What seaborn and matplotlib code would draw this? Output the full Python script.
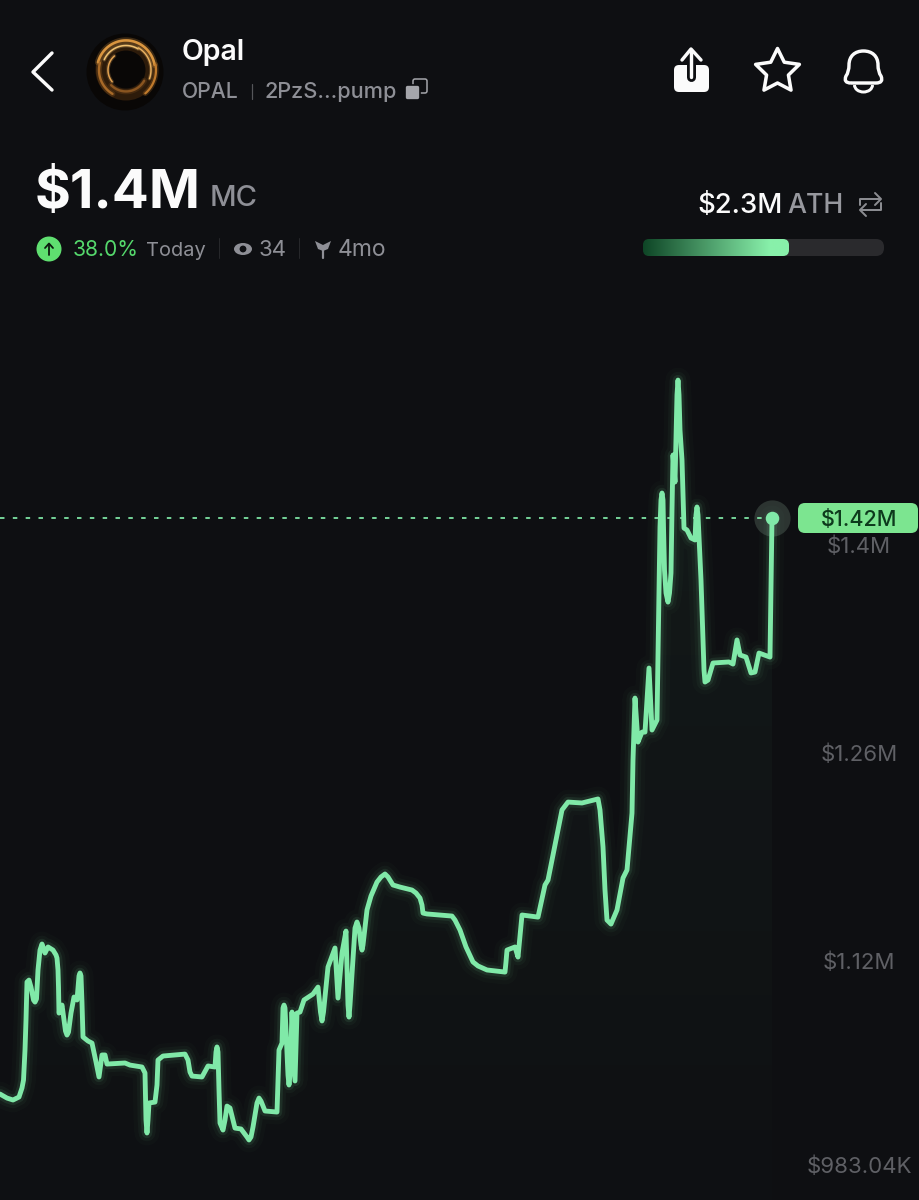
import numpy as np
import pandas as pd
import seaborn as sns
import matplotlib.pyplot as plt
from matplotlib.patches import Circle, FancyBboxPatch, Polygon, Ellipse, Arc, PathPatch
from matplotlib.path import Path

# Market cap series, in $K
time_idx = [0, 7, 13, 19, 22, 23.5, 25, 26, 27, 29, 31, 32.5, 33.5, 35, 36.5, 38, 40, 42, 45, 48, 53, 56, 57, 58, 58.5,
            59, 62, 64, 65.5, 67, 68.5, 71, 74, 77, 79, 80, 81, 82, 83, 88, 92, 96, 99, 102, 105, 107, 125, 130, 142,
            145, 146, 147, 148, 149, 155, 157, 158, 163, 185, 188, 190, 192, 202, 208, 215, 216, 217, 218, 219, 220,
            223, 225, 227, 230, 235, 241, 247, 249, 251, 253, 257, 259, 261, 265, 277, 279, 282, 283, 284, 285, 288,
            289, 290, 292, 295, 297, 300, 304, 313, 318, 320.5, 322, 323.5, 328, 335, 338, 342, 345, 346, 348, 349,
            350, 355, 357, 359, 361, 362, 363, 367, 371, 377, 381, 385, 388, 393, 400, 412, 416, 420, 422, 423, 427,
            452, 455, 460, 466, 473, 478, 487, 505, 506, 507, 515, 518, 522, 538, 545, 548, 562, 568, 582, 598, 600,
            603, 605, 607, 611, 617, 623, 627, 632, 633, 635, 638, 642, 645, 649, 652, 657, 659, 660, 661, 662, 663,
            663.5, 664.5, 666, 668, 669.5, 671, 672, 673, 675, 677, 678, 679, 680, 682, 684, 687, 691, 695, 696, 697,
            698, 701, 704, 705, 708, 713, 729, 733, 737, 740, 746, 751, 755, 759, 770, 772]
mcap_k = [1030.5, 1027.8, 1026.5, 1028.5, 1034.6, 1039.9, 1060.1, 1080.3, 1105.9, 1107.2, 1102.5, 1097.1, 1093.8, 1092.4,
          1094.5, 1114, 1127.4, 1131.5, 1125.4, 1129.5, 1127.4, 1124.1, 1122, 1114, 1102.5,
          1085, 1090.4, 1080.3, 1072.9, 1070.2, 1072.2, 1085, 1095.8, 1093.8, 1110, 1112, 1110, 1091.8, 1068.9, 1066.2,
          1064.8, 1052.1, 1042, 1056.8, 1056.8, 1050.7, 1051.4, 1050, 1048.7,
          1044.7, 1013, 1004.3, 1013, 1024.5, 1025.1, 1036.6, 1053.4, 1056.1, 1057.4, 1053.4, 1045.3, 1042.6, 1042,
          1049.4, 1048.7, 1058.8, 1062.2, 1058.8, 1033.2, 1011,
          1006.3, 1013, 1022.4, 1021.1, 1007.6, 1007, 1001.6, 999.6, 1001.6, 1008.3, 1024.5, 1027.8, 1025.8, 1019.1,
          1018.4, 1060.1, 1064.8, 1088.4, 1090.4, 1088.4, 1043.3,
          1036.6, 1043.3, 1085.7, 1039.3, 1085, 1085.7, 1093.8, 1097.8, 1102.5, 1085.7, 1079.7, 1085.7, 1116, 1128.8,
          1095.1, 1125.4, 1136.2, 1140.2, 1090.4, 1082.3,
          1090.4, 1142.2, 1146.3, 1142.2, 1130.8, 1127.4, 1130.8, 1154.4, 1163.8, 1173.2, 1176.6, 1178.6, 1176.6, 1171.2,
          1169.8, 1167.8, 1165.8, 1162.4, 1157.7, 1152.3, 1151.7,
          1150.3, 1147.6, 1140.9, 1129.5, 1119.4, 1116.7, 1114, 1112.6, 1119.4, 1127.4, 1129.5, 1122.7, 1151, 1149.6,
          1171.2, 1174.5, 1221.7, 1227, 1226.4, 1229.1, 1221.7,
          1196.8, 1167.8, 1147.6, 1144.9, 1154.4, 1175.9, 1181.3, 1219.6, 1255.3, 1297, 1267.4, 1274.1, 1274.1, 1317.2,
          1275.5, 1282.2, 1367.7, 1412.1, 1430.3, 1435, 1430.3,
          1412, 1383.2, 1367.7, 1361.6, 1367.7, 1381.2, 1423.6, 1460.6, 1442.4, 1501, 1511, 1501, 1477.4, 1457.2, 1411.4,
          1410.1, 1404.7, 1403.4, 1420.2, 1425.6,
          1420.2, 1376.4, 1315.9, 1307.8, 1309.1, 1320.6, 1321.3, 1319.9, 1336.1, 1326, 1324.6, 1313.9, 1314.5, 1327.3,
          1324.6, 1418.2]

tick_vals = [1400, 1260, 1120, 983.04]
tick_labels = ['$1.4M', '$1.26M', '$1.12M', '$983.04K']
last_label = '$1.42M'

BG = '#0e0f12'
GREEN = '#80e9a8'
GRAY = '#8e8f96'
WHITE = '#fbfbfb'

sns.set_theme(style='dark', rc={'axes.facecolor': BG, 'figure.facecolor': BG, 'savefig.facecolor': BG})
plt.rcParams['font.family'] = ['Inter', 'DejaVu Sans']

df = pd.DataFrame({'t': time_idx, 'mcap': mcap_k})

fig = plt.figure(figsize=(9.19, 12), dpi=100)
ax = fig.add_axes([0, 0, 1, 1])
y_low, y_high = 959.2, 1766.8

# faint fill under the line, fading downwards
area = ax.fill_between(df['t'], df['mcap'], y_low, color='none', lw=0)
shade = np.zeros((128, 1, 4))
shade[..., :3] = [0.5, 0.91, 0.66]
shade[:, 0, 3] = np.linspace(0.055, 0.008, 128)
im = ax.imshow(shade, extent=(0, max(time_idx), y_low, max(mcap_k)), aspect='auto', origin='upper', zorder=1)
im.set_clip_path(area.get_paths()[0], transform=ax.transData)
ax.set_xlim(0, 919)
ax.set_ylim(y_low, y_high)

# last price halo sits under the line
ax.scatter(time_idx[-1], mcap_k[-1], s=680, color='#2c3431', lw=0, zorder=1.5)

# glow layers then the line itself
for lw, a in [(18, 0.02), (12, 0.04), (7.5, 0.09)]:
    sns.lineplot(data=df, x='t', y='mcap', ax=ax, color=GREEN, lw=lw, alpha=a, estimator=None, sort=False,
                 legend=False, solid_joinstyle='round', solid_capstyle='round')
sns.lineplot(data=df, x='t', y='mcap', ax=ax, color=GREEN, lw=3.5, estimator=None, sort=False, legend=False,
             solid_joinstyle='round', solid_capstyle='round')

# last price marker
ax.plot([0, time_idx[-1]], [mcap_k[-1], mcap_k[-1]], color=GREEN, lw=1.4, ls=(0, (2.3, 4.3)), alpha=0.9)
ax.scatter(time_idx[-1], mcap_k[-1], s=95, color=GREEN, lw=0, zorder=5)

ax.set_xlabel('')
ax.set_ylabel('')
ax.set_xticks([])
ax.yaxis.tick_right()
ax.set_yticks(tick_vals, tick_labels)
ax.tick_params(axis='y', length=0, pad=-43.2, labelsize=16, labelcolor='#5f6065')
plt.setp(ax.get_yticklabels(), ha='center')
ax.grid(False)
sns.despine(ax=ax, left=True, bottom=True, right=True, top=True)

# overlay in picture pixels for the app header
ui = fig.add_axes([0, 0, 1, 1], facecolor='none')
ui.set_xlim(0, 919)
ui.set_ylim(1200, 0)
ui.axis('off')

PX = 0.72  # px to points


def stroke(xs, ys, color=WHITE, w=3.0, **kw):
    ui.plot(xs, ys, color=color, lw=w * PX, solid_capstyle='round', solid_joinstyle='round', **kw)


# back chevron
stroke([52, 33, 52], [53, 72, 90], w=3.4)

# avatar
ui.add_patch(Circle((125, 72), 38.5, color='#090706', lw=0))
ui.add_patch(Circle((126, 70), 25, fc='none', ec='#5a3410', lw=11 * PX, alpha=0.45))
for r, a0, a1, c, w in [(29, 195, 350, '#d9953f', 2.6), (24, 205, 300, '#f0c070', 1.6), (30, 350, 410, '#c07a2c', 2.2),
                        (21, 30, 135, '#8a5520', 2.4), (27, 120, 195, '#a86a28', 2.4), (18, 140, 230, '#e0a050', 1.6),
                        (25, 300, 380, '#e8b060', 1.5)]:
    th = np.radians(np.linspace(a0, a1, 40))
    ui.plot(126 + r * np.cos(th), 70 + r * 1.02 * np.sin(th), color=c, lw=w * PX, solid_capstyle='round')
    ui.plot(126 + r * np.cos(th), 70 + r * 1.02 * np.sin(th), color=c, lw=w * 2.4 * PX, alpha=0.25)

ui.text(182, 60, 'Opal', color=WHITE, fontsize=20.5, fontweight='semibold', va='baseline')
ui.text(182, 98, 'OPAL', color=GRAY, fontsize=15.2, fontweight='medium', va='baseline')
stroke([252, 252], [84, 99], color='#55565a', w=1.2)
ui.text(264, 98, '2PzS...pump', color=GRAY, fontsize=15.6, fontweight='medium', va='baseline')
ui.add_patch(FancyBboxPatch((413, 79), 14, 14, boxstyle='round,pad=0,rounding_size=2', fc='none', ec='#a5a6ab', lw=1.1))
ui.add_patch(FancyBboxPatch((405, 85), 15, 15, boxstyle='round,pad=0,rounding_size=2.5', fc='#a5a6ab', ec=BG, lw=1.2))

# share icon
ui.add_patch(FancyBboxPatch((674, 65), 35, 27, boxstyle='round,pad=0,rounding_size=5', fc=WHITE, ec='none'))
stroke([691, 691], [62, 77], color=BG, w=9)
stroke([691, 691], [50, 77], w=3.4)
stroke([682, 691, 701], [60, 49, 60], w=3.4)

# star icon
star_th = np.radians(np.arange(-90, 270, 36))
star_r = np.array([23, 11.5] * 5)
ui.add_patch(Polygon(np.c_[777.5 + star_r * np.cos(star_th), 71.5 + star_r * np.sin(star_th)], closed=True, fc='none',
                     ec=WHITE, lw=3.5 * PX, joinstyle='round'))

# bell icon
bell = Path([(851, 83), (843, 83), (846, 76), (849, 72), (849, 65), (849, 56), (855, 51), (863.5, 51), (872, 51),
             (878, 56), (878, 65), (878, 72), (881, 76), (884, 83), (876, 83), (851, 83)],
            [Path.MOVETO, Path.CURVE3, Path.CURVE3, Path.CURVE3, Path.CURVE3, Path.CURVE4, Path.CURVE4, Path.CURVE4,
             Path.CURVE4, Path.CURVE4, Path.CURVE4, Path.CURVE3, Path.CURVE3, Path.CURVE3, Path.CURVE3, Path.LINETO])
ui.add_patch(PathPatch(bell, fc='none', ec=WHITE, lw=3.4 * PX, joinstyle='round'))
ui.add_patch(Arc((863.5, 85), 18, 14, theta1=0, theta2=180, ec=WHITE, lw=3 * PX))

# big market cap
ui.text(35, 208, '$1.4M', color=WHITE, fontsize=39.5, fontweight='bold', va='baseline')
ui.text(210, 206, 'MC', color=GRAY, fontsize=21, fontweight='medium', va='baseline')

# stats row
ui.add_patch(Circle((49, 249), 12.5, color='#5fdf70', lw=0))
stroke([49, 49], [255, 244], color='#0b1a0e', w=1.8)
stroke([45, 49, 53], [248, 243.5, 248], color='#0b1a0e', w=1.8)
ui.text(73, 256, '38.0%', color='#55d86c', fontsize=15.2, va='baseline')
ui.text(146, 256, 'Today', color=GRAY, fontsize=14.4, va='baseline')
stroke([219, 219], [238, 258], color='#26272a', w=1)
ui.add_patch(Ellipse((243, 249), 18, 12, color=GRAY, lw=0))
ui.add_patch(Circle((243, 249), 3.4, color=BG, lw=0))
ui.text(259, 256, '34', color=GRAY, fontsize=16, va='baseline')
stroke([299, 299], [238, 258], color='#26272a', w=1)
stroke([323, 323], [249, 258], color=GRAY, w=2.2)
ui.add_patch(Polygon([(315, 241), (323, 245), (323, 251), (318, 249)], closed=True, color=GRAY, lw=0))
ui.add_patch(Polygon([(331, 241), (323, 245), (323, 251), (328, 249)], closed=True, color=GRAY, lw=0))
ui.text(338, 256, '4mo', color=GRAY, fontsize=16.5, va='baseline')

# ATH block
ui.text(697, 213, '$2.3M', color=WHITE, fontsize=19.8, fontweight='medium', va='baseline')
ui.text(787, 213, 'ATH', color='#97989e', fontsize=19.3, fontweight='medium', va='baseline')
stroke([860, 860, 880], [205, 199, 199], color='#8b8c91', w=2)
stroke([875, 881, 875], [193, 199, 205], color='#8b8c91', w=2)
stroke([881, 881, 861], [203, 210, 210], color='#8b8c91', w=2)
stroke([866, 860, 866], [204, 210, 216], color='#8b8c91', w=2)

# progress bar
ui.add_patch(FancyBboxPatch((643, 239), 241, 17, boxstyle='round,pad=0,rounding_size=8', fc='#2a2a2d', ec='none'))
clip = FancyBboxPatch((643, 239), 146, 17, boxstyle='round,pad=0,rounding_size=6', fc='none', ec='none')
ui.add_patch(clip)
c0, c1 = np.array([0x0e, 0x45, 0x26]) / 255, np.array([0x88, 0xf0, 0xaa]) / 255
ramp = np.clip(np.linspace(0, 1.15, 256), 0, 1)[None, :, None]
grad = c0 + (c1 - c0) * ramp
img = ui.imshow(grad, extent=(643, 789, 256, 239), aspect='auto', zorder=3)
img.set_clip_path(clip)
ui.set_xlim(0, 919)
ui.set_ylim(1200, 0)

# current value pill
ui.add_patch(FancyBboxPatch((798, 503), 120, 30, boxstyle='round,pad=0,rounding_size=7', fc='#7ce590', ec='none'))
ui.text(859, 518, last_label, color='#0d3a1c', fontsize=15.5, ha='center', va='center_baseline', fontweight='medium')

fig.savefig('out.png', dpi=100)
